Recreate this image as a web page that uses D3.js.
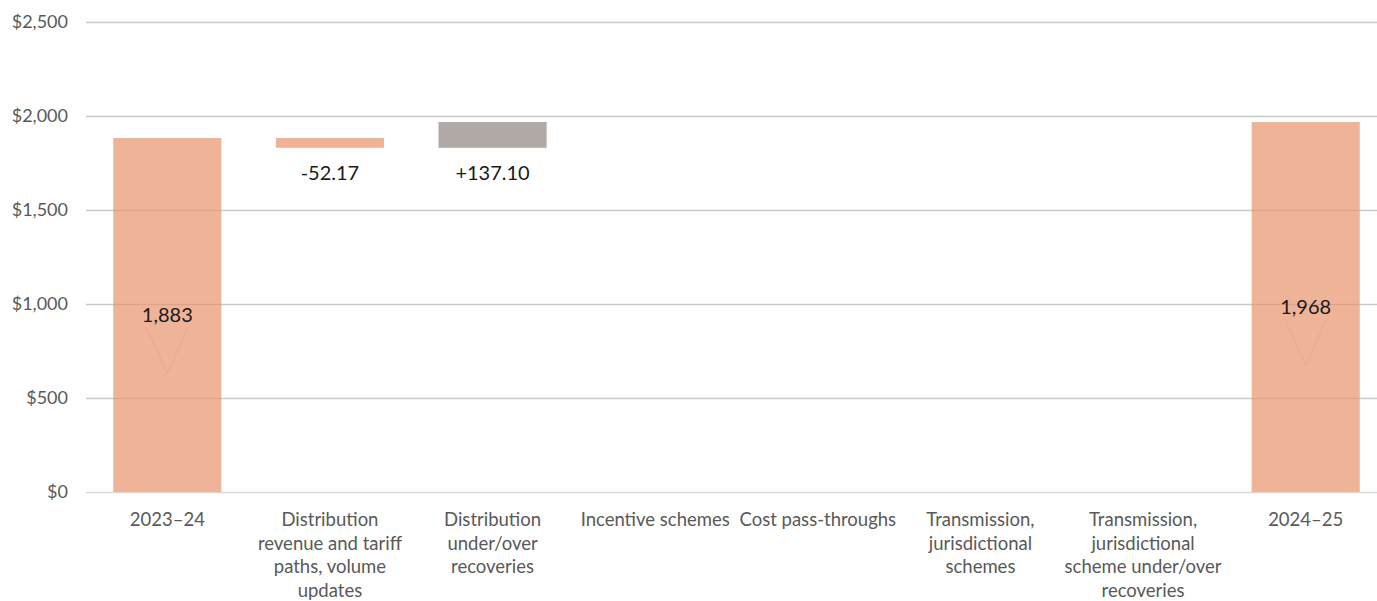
<!DOCTYPE html>
<html>
<head>
<meta charset="utf-8">
<script src="https://cdn.jsdelivr.net/npm/d3@7"></script>
<style>
  body { margin: 0; background: #fff; }
  text { font-family: Lato, "Open Sans", sans-serif; }
</style>
</head>
<body>
<script>
// waterfall data
const categories = ["2023–24", "Distribution revenue and tariff paths, volume updates",
	"Distribution under/over recoveries", "Incentive schemes", "Cost pass-throughs",
	"Transmission, jurisdictional schemes", "Transmission, jurisdictional scheme under/over recoveries",
	"2024–25"];
const tickLines = [
	["2023–24"],
	["Distribution", "revenue and tariff", "paths, volume", "updates"],
	["Distribution", "under/over", "recoveries"],
	["Incentive schemes"],
	["Cost pass-throughs"],
	["Transmission,", "jurisdictional", "schemes"],
	["Transmission,", "jurisdictional", "scheme under/over", "recoveries"],
	["2024–25"]
];
const changes = [null, -52.17, 137.10, 0, 0, 0, 0, null];
const totals = [1883, null, null, null, null, null, null, 1968];
const yTicks = [0, 500, 1000, 1500, 2000, 2500];

const width = 1377, height = 601;
const svg = d3.select("body").append("svg")
	.attr("width", width)
	.attr("height", height);

const x = d3.scaleBand()
	.domain(categories)
	.range([86, 1387])
	.paddingInner(0.335)
	.paddingOuter(0.1675);
const y = d3.scaleLinear().domain([0, 2500]).range([492, 22]);

// build running steps
let running = 0;
const steps = categories.map((c, i) => {
	if (totals[i] != null) {
		running = totals[i];
		return { cat: c, y0: 0, y1: totals[i], total: true, v: totals[i] };
	}
	const start = running;
	running += changes[i];
	return { cat: c, y0: start, y1: running, total: false, v: changes[i] };
});

// gridlines
svg.append("g")
	.selectAll("line")
	.data(yTicks)
	.join("line")
	.attr("x1", 86)
	.attr("x2", width)
	.attr("y1", d => Math.round(y(d)) + 0.5)
	.attr("y2", d => Math.round(y(d)) + 0.5)
	.attr("stroke", "#d9d9d9")
	.attr("stroke-width", 1.5);

// bars
svg.append("g")
	.selectAll("rect")
	.data(steps.filter(d => d.v !== 0))
	.join("rect")
	.attr("x", d => x(d.cat))
	.attr("width", x.bandwidth())
	.attr("y", d => y(Math.max(d.y0, d.y1)))
	.attr("height", d => Math.abs(y(d.y0) - y(d.y1)))
	.attr("fill", d => (d.total || d.v < 0) ? "#eeae90" : "#aba29e")
	.attr("fill-opacity", 0.93);

// gridlines showing through bars
svg.append("g")
	.selectAll("line")
	.data(yTicks.filter(d => d > 0))
	.join("line")
	.attr("x1", 86)
	.attr("x2", width)
	.attr("y1", d => Math.round(y(d)) + 0.5)
	.attr("y2", d => Math.round(y(d)) + 0.5)
	.attr("stroke", "#000")
	.attr("stroke-opacity", 0.07)
	.attr("stroke-width", 1.5);

// y axis labels
svg.append("g")
	.selectAll("text")
	.data(yTicks)
	.join("text")
	.attr("x", 68)
	.attr("y", d => y(d))
	.attr("dy", "0.35em")
	.attr("text-anchor", "end")
	.attr("fill", "#595959")
	.attr("font-size", 18)
	.text(d => "$" + d3.format(",")(d));

// category labels
const catG = svg.append("g")
	.selectAll("text")
	.data(categories)
	.join("text")
	.attr("x", d => x(d) + x.bandwidth() / 2)
	.attr("y", 526)
	.attr("text-anchor", "middle")
	.attr("fill", "#595959")
	.attr("font-size", 18.5);
catG.selectAll("tspan")
	.data((d, i) => tickLines[i])
	.join("tspan")
	.attr("x", function () { return d3.select(this.parentNode).attr("x"); })
	.attr("dy", (d, i) => i === 0 ? 0 : 23.5)
	.text(d => d);

// labels for total bars, in the middle, with the faint callout V
const totalSteps = steps.filter(d => d.total);
svg.append("g")
	.selectAll("path")
	.data(totalSteps)
	.join("path")
	.attr("d", d => {
		const cx = x(d.cat) + x.bandwidth() / 2;
		const cy = y(d.v / 2);
		return `M${cx - 21},${cy + 12} L${cx},${cy + 58} L${cx + 21},${cy + 12}`;
	})
	.attr("fill", "none")
	.attr("stroke", "#000")
	.attr("stroke-opacity", 0.05);
svg.append("g")
	.selectAll("text")
	.data(totalSteps)
	.join("text")
	.attr("x", d => x(d.cat) + x.bandwidth() / 2)
	.attr("y", d => y(d.v / 2))
	.attr("dy", "0.35em")
	.attr("text-anchor", "middle")
	.attr("fill", "#1a1a1a")
	.attr("font-size", 20)
	.text(d => d3.format(",")(d.v));

// labels for change bars, under the bar
svg.append("g")
	.selectAll("text")
	.data(steps.filter(d => !d.total && d.v !== 0))
	.join("text")
	.attr("x", d => x(d.cat) + x.bandwidth() / 2)
	.attr("y", d => y(Math.min(d.y0, d.y1)) + 25)
	.attr("dy", "0.35em")
	.attr("text-anchor", "middle")
	.attr("fill", "#1a1a1a")
	.attr("font-size", 20)
	.text(d => (d.v > 0 ? "+" : "-") + Math.abs(d.v).toFixed(2));
</script>
</body>
</html>
